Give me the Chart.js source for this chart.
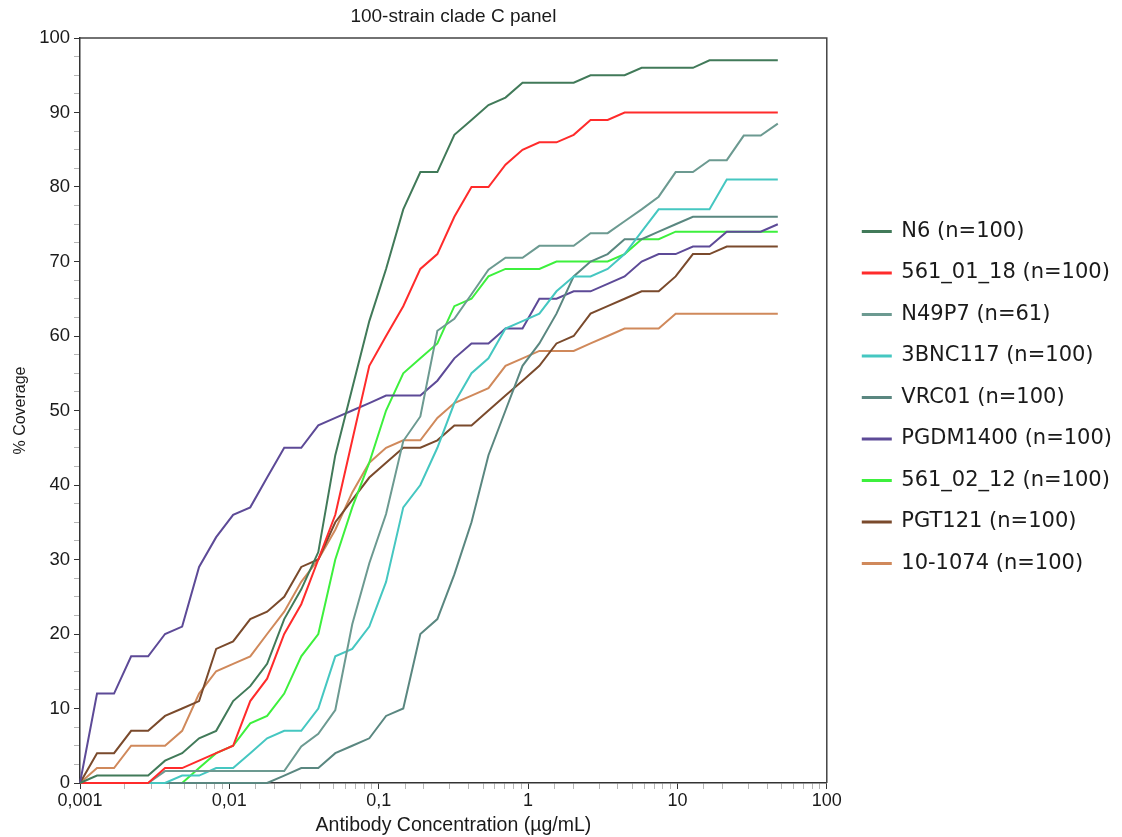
<!DOCTYPE html>
<html>
<head>
<meta charset="utf-8">
<title>100-strain clade C panel</title>
<script src="https://cdn.jsdelivr.net/npm/chart.js@4.4.1/dist/chart.umd.min.js"></script>
<style>
  html, body { margin: 0; padding: 0; background: #fff; }
  #wrap { width: 1122px; height: 837px; }
</style>
</head>
<body>
<div id="wrap"><canvas id="coverage-chart" width="1122" height="837"></canvas></div>
<script>
// antibody concentrations (ug/mL), one per measured point
const concentrations = [0.001, 0.0013, 0.00169, 0.0022, 0.00286, 0.00371, 0.00483, 0.00627, 0.00816, 0.0106,
    0.0138, 0.0179, 0.0233, 0.0303, 0.0394, 0.0512, 0.0665, 0.0865, 0.112, 0.146,
    0.190, 0.247, 0.321, 0.418, 0.543, 0.706, 0.918, 1.19, 1.55, 2.02,
    2.62, 3.41, 4.43, 5.76, 7.49, 9.73, 12.7, 16.4, 21.4, 27.8,
    36.1, 47.0];

const seriesNames = ['N6 (n=100)', '561_01_18 (n=100)', 'N49P7 (n=61)', '3BNC117 (n=100)', 'VRC01 (n=100)',
    'PGDM1400 (n=100)', '561_02_12 (n=100)', 'PGT121 (n=100)', '10-1074 (n=100)'];
const seriesColors = ['#417a59', '#ff2b2b', '#6c9a91', '#45c7c1', '#5a8780',
    '#5d4a97', '#3df03d', '#7a4a2c', '#d0895b'];

// % coverage at each concentration
const n6 = [0, 1, 1, 1, 1, 3, 4, 6, 7, 11, 13, 16, 22, 26, 31, 44, 53, 62, 69, 77,
    82, 82, 87, 89, 91, 92, 94, 94, 94, 94, 95, 95, 95, 96, 96, 96, 96, 97, 97, 97, 97, 97];
const ab561_01_18 = [0, 0, 0, 0, 0, 2, 2, 3, 4, 5, 11, 14, 20, 24, 30, 36, 46, 56, 60, 64,
    69, 71, 76, 80, 80, 83, 85, 86, 86, 87, 89, 89, 90, 90, 90, 90, 90, 90, 90, 90, 90, 90];
const n49p7 = [0, 0, 0, 0, 0, 1.6, 1.6, 1.6, 1.6, 1.6, 1.6, 1.6, 1.6, 4.9, 6.6, 9.8, 21.3, 29.5, 36.1, 45.9,
    49.2, 60.7, 62.3, 65.6, 68.9, 70.5, 70.5, 72.1, 72.1, 72.1, 73.8, 73.8, 75.4, 77.0, 78.7, 82.0, 82.0, 83.6, 83.6, 86.9, 86.9, 88.5];
const bnc117 = [0, 0, 0, 0, 0, 0, 1, 1, 2, 2, 4, 6, 7, 7, 10, 17, 18, 21, 27, 37,
    40, 45, 51, 55, 57, 61, 62, 63, 66, 68, 68, 69, 71, 74, 77, 77, 77, 77, 81, 81, 81, 81];
const vrc01 = [0, 0, 0, 0, 0, 0, 0, 0, 0, 0, 0, 0, 1, 2, 2, 4, 5, 6, 9, 10,
    20, 22, 28, 35, 44, 50, 56, 59, 63, 68, 70, 71, 73, 73, 74, 75, 76, 76, 76, 76, 76, 76];
const pgdm1400 = [0, 12, 12, 17, 17, 20, 21, 29, 33, 36, 37, 41, 45, 45, 48, 49, 50, 51, 52, 52,
    52, 54, 57, 59, 59, 61, 61, 65, 65, 66, 66, 67, 68, 70, 71, 71, 72, 72, 74, 74, 74, 75];
const ab561_02_12 = [0, 0, 0, 0, 0, 0, 0, 2, 4, 5, 8, 9, 12, 17, 20, 30, 37, 43, 50, 55,
    57, 59, 64, 65, 68, 69, 69, 69, 70, 70, 70, 70, 71, 73, 73, 74, 74, 74, 74, 74, 74, 74];
const pgt121 = [0, 4, 4, 7, 7, 9, 10, 11, 18, 19, 22, 23, 25, 29, 30, 35, 38, 41, 43, 45,
    45, 46, 48, 48, 50, 52, 54, 56, 59, 60, 63, 64, 65, 66, 66, 68, 71, 71, 72, 72, 72, 72];
const ab10_1074 = [0, 2, 2, 5, 5, 5, 7, 12, 15, 16, 17, 20, 23, 27, 30, 34, 39, 43, 45, 46,
    46, 49, 51, 52, 53, 56, 57, 58, 58, 58, 59, 60, 61, 61, 61, 63, 63, 63, 63, 63, 63, 63];

const seriesValues = [n6, ab561_01_18, n49p7, bnc117, vrc01, pgdm1400, ab561_02_12, pgt121, ab10_1074];

const xTickValues = [0.001, 0.01, 0.1, 1, 10, 100];
const xTickLabels = ['0,001', '0,01', '0,1', '1', '10', '100'];

function majorX(value) {
    return xTickValues.findIndex(v => Math.abs(value - v) / v < 1e-6);
}

// top and right edge of the plot box
const framePlugin = {
    id: 'frame',
    afterDatasetsDraw(chart) {
        const { ctx, chartArea } = chart;
        ctx.save();
        ctx.strokeStyle = '#444';
        ctx.lineWidth = 1.5;
        ctx.beginPath();
        ctx.moveTo(chartArea.left, chartArea.top);
        ctx.lineTo(chartArea.right, chartArea.top);
        ctx.lineTo(chartArea.right, chartArea.bottom);
        ctx.stroke();
        ctx.restore();
    }
};

Chart.defaults.font.family = '"Liberation Sans", Arial, sans-serif';
Chart.defaults.color = '#1a1a1a';

const datasets = seriesNames.map((name, i) => ({
    label: name,
    data: concentrations.map((c, j) => ({ x: c, y: seriesValues[i][j] })),
    borderColor: seriesColors[i],
    backgroundColor: seriesColors[i],
    borderWidth: 2,
    pointRadius: 0,
    tension: 0,
    fill: false,
    clip: false
}));

const ctx = document.getElementById('coverage-chart').getContext('2d');
new Chart(ctx, {
    type: 'line',
    data: { datasets: datasets },
    plugins: [framePlugin],
    options: {
        responsive: false,
        animation: false,
        layout: { padding: 0 },
        plugins: {
            title: {
                display: true,
                text: '100-strain clade C panel',
                fullSize: false,
                color: '#1a1a1a',
                font: { size: 19, weight: 'normal' },
                padding: { top: 5.6, bottom: 9.6 }
            },
            legend: {
                position: 'right',
                align: 'start',
                maxWidth: 320,
                title: { display: true, text: ' ', padding: { top: 186, bottom: 0 }, font: { size: 12 } },
                labels: {
                    boxWidth: 28,
                    boxHeight: 1,
                    padding: 20.5,
                    color: '#1a1a1a',
                    font: { family: '"DejaVu Sans", sans-serif', size: 21 }
                }
            },
            tooltip: { enabled: false }
        },
        scales: {
            x: {
                type: 'logarithmic',
                min: 0.001,
                max: 100,
                afterFit: s => { s.height = 54; },
                border: { display: true, color: '#333', width: 1.5 },
                grid: {
                    drawOnChartArea: false,
                    drawTicks: true,
                    tickLength: 6,
                    tickColor: c => majorX(c.tick.value) >= 0 ? '#333' : '#b5b5b5'
                },
                ticks: {
                    autoSkip: false,
                    maxRotation: 0,
                    padding: 1,
                    font: { size: 18 },
                    callback: value => {
                        const k = majorX(value);
                        return k >= 0 ? xTickLabels[k] : '';
                    }
                },
                title: {
                    display: true,
                    text: 'Antibody Concentration (µg/mL)',
                    font: { size: 19.5 },
                    padding: { top: 0, bottom: 0 }
                }
            },
            y: {
                type: 'linear',
                min: 0,
                max: 100,
                afterFit: s => { s.width = 80; },
                border: { display: true, color: '#333', width: 1.5 },
                grid: {
                    drawOnChartArea: false,
                    drawTicks: true,
                    tickLength: 6,
                    tickColor: c => c.tick.value % 10 === 0 ? '#333' : '#b5b5b5'
                },
                ticks: {
                    stepSize: 2.5,
                    autoSkip: false,
                    padding: 4,
                    font: { size: 18.5 },
                    callback: value => value % 10 === 0 ? String(value) : ''
                },
                title: {
                    display: true,
                    text: '% Coverage',
                    font: { size: 16 },
                    padding: { top: 11, bottom: 0 }
                }
            },
            yRight: {
                type: 'linear',
                position: 'right',
                min: 0,
                max: 100,
                afterFit: s => { s.width = 15.5; },
                border: { display: false },
                grid: { display: false },
                ticks: { display: false }
            }
        }
    }
});
</script>
</body>
</html>
